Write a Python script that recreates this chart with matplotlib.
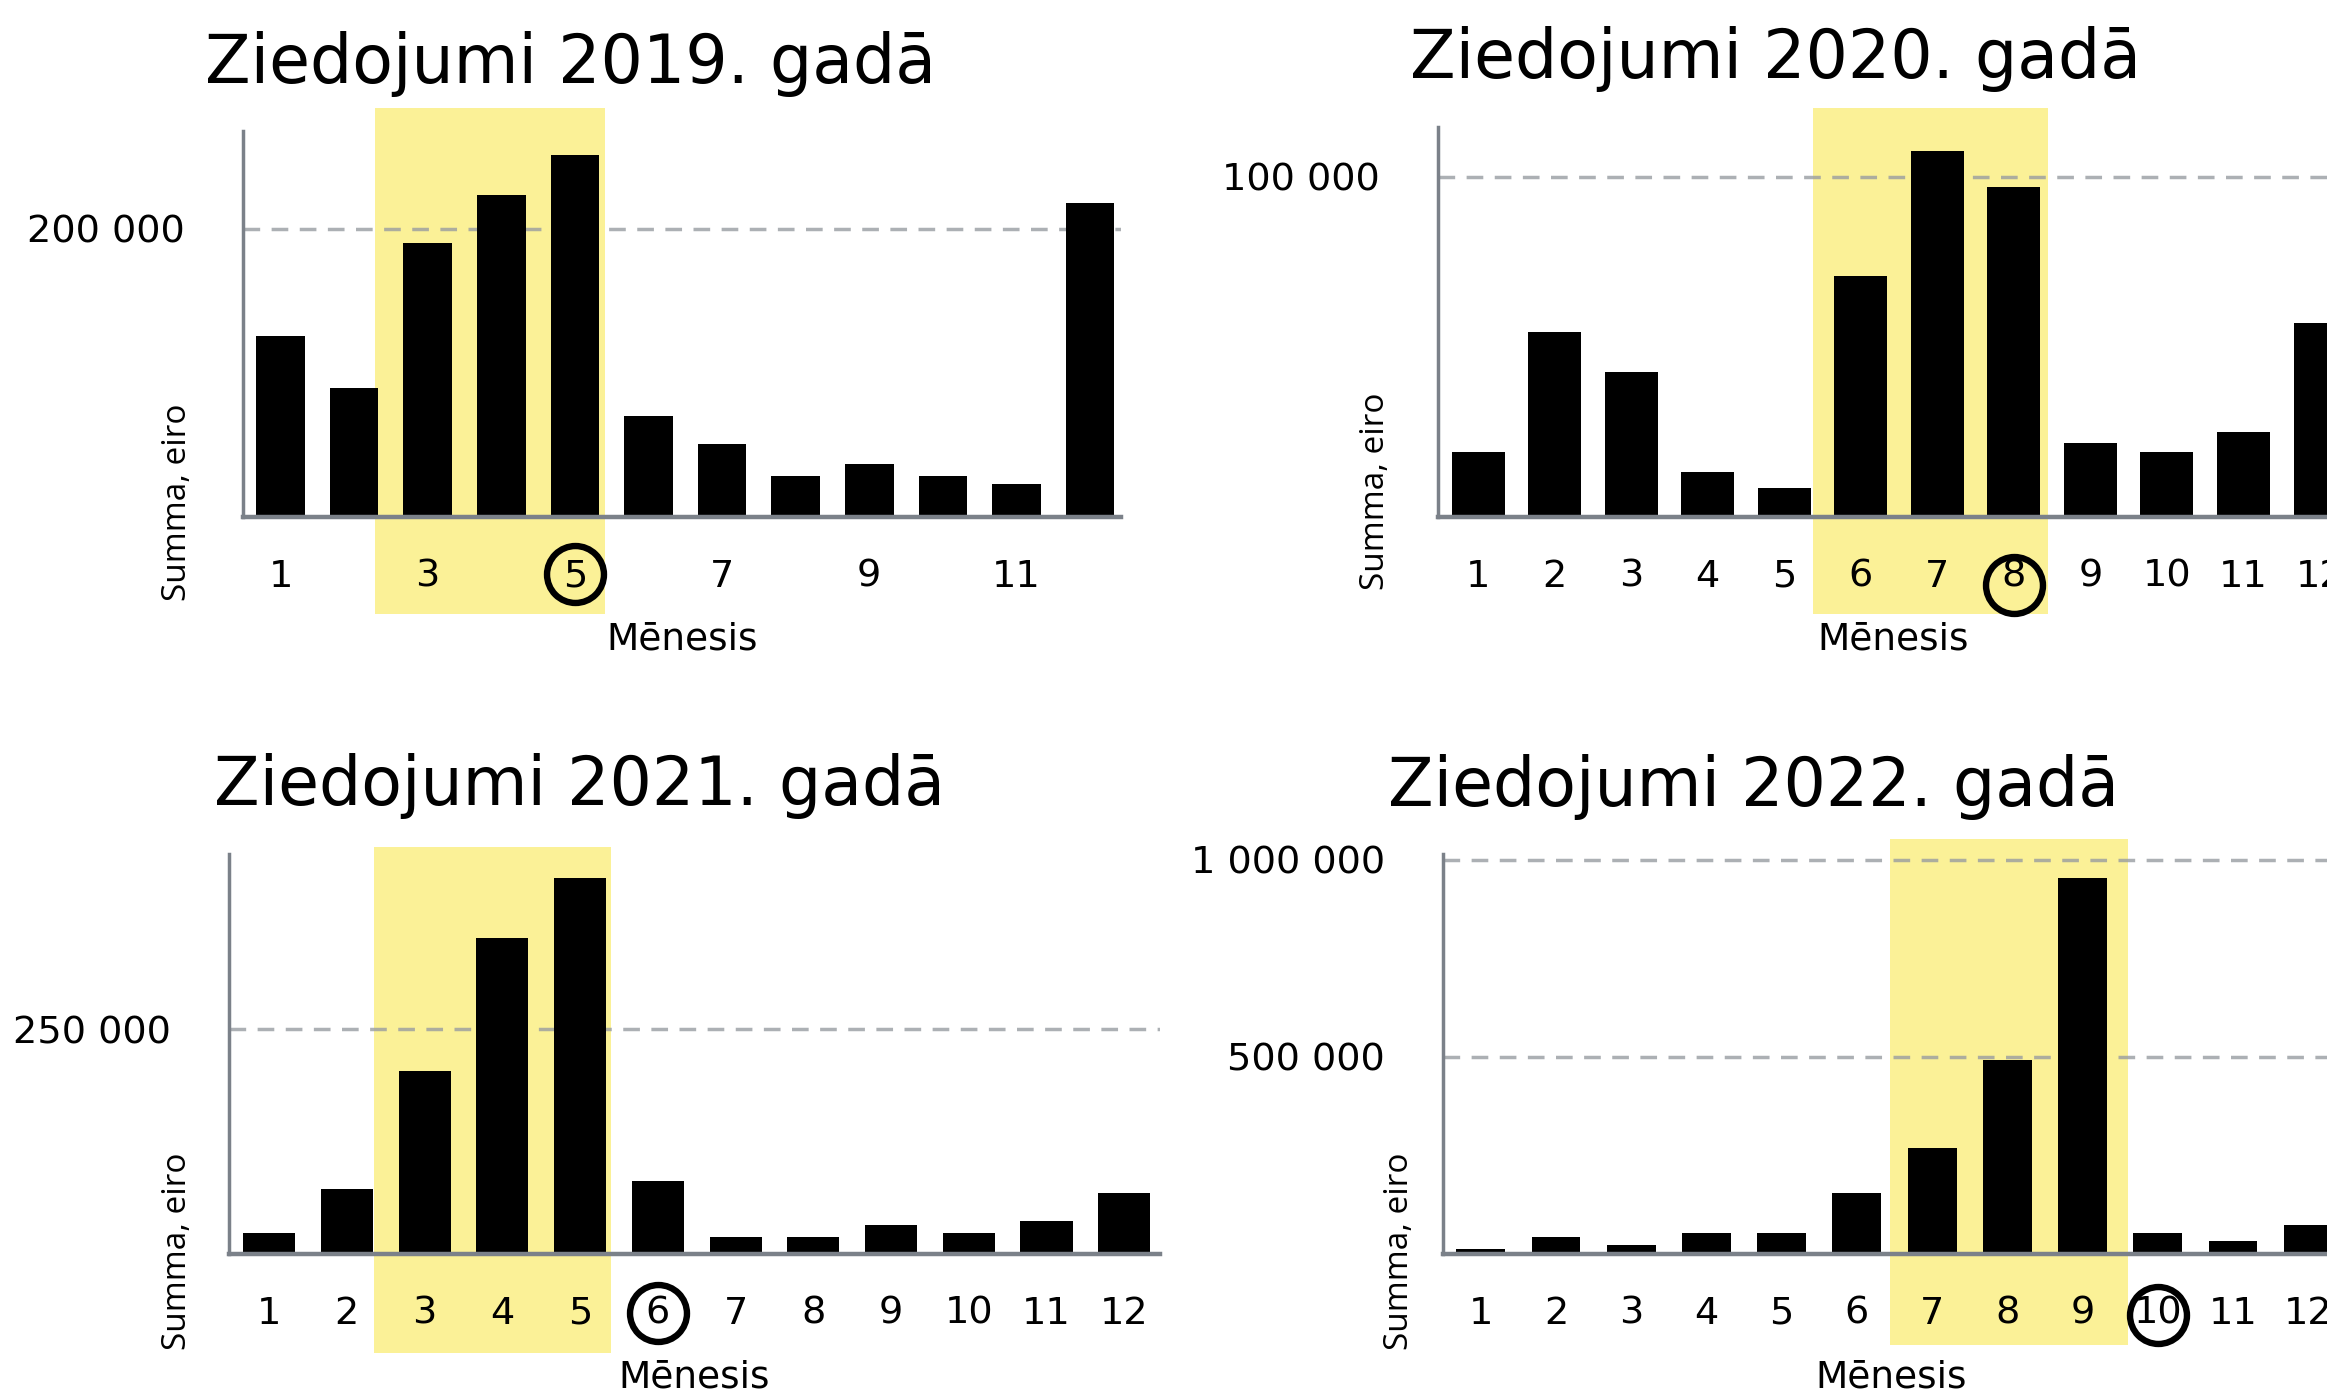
import matplotlib
matplotlib.use('Agg')
import matplotlib.pyplot as plt
import matplotlib.transforms as mtransforms
from matplotlib.patches import Rectangle

# monthly donations, eur
months = list(range(1, 13))
years = [2019, 2020, 2021, 2022]
d2019 = [125600, 89200, 189700, 223400, 251300, 69700, 50700, 28200, 36500, 28200, 22800, 218000]
d2020 = [19100, 54500, 42700, 13100, 8500, 70900, 107500, 97000, 21600, 19100, 24900, 56900]
d2021 = [23200, 72500, 203600, 351100, 418100, 81400, 18700, 18700, 32000, 23200, 37000, 68000]
d2022 = [12400, 42700, 22500, 52900, 52900, 155200, 267700, 492700, 953900, 52900, 32600, 73100]
values = [d2019, d2020, d2021, d2022]

y_max = [267700, 114600, 444800, 1014700]
y_ticks = [[200000], [100000], [250000], [500000, 1000000]]
x_ticks = [[1, 3, 5, 7, 9, 11], months, months, months]
hl_from = [3, 6, 3, 7]
hl_to = [5, 8, 5, 9]
circled = [5, 8, 6, 10]

# layout (pixels of the 2327x1391 picture)
W, H, DPI = 2327, 1391, 100
boxes = [(243, 131, 1121, 517), (1438, 127, 2349, 517),
         (229, 854, 1160, 1254), (1443, 854, 2339, 1254)]
xlims = [(0.49, 12.42), (0.474, 12.38), (0.483, 12.46), (0.497, 12.41)]
bar_w = [0.66, 0.69, 0.67, 0.65]
title_xy = [(205, 83), (1410, 78), (214, 805), (1388, 806)]
ylab_xy = [(178, 502), (1376, 491), (178, 1251), (1399, 1251)]
hl_pad = [(0.71, 0.41), (0.62, 0.44), (0.65, 0.40), (0.56, 0.60)]
hl_y = [(108, 614), (108, 614), (847, 1353), (839, 1345)]
circle_dy = [57, 68, 59, 61]

YELLOW = '#fbf197'
AXCOL = '#7b8189'


def fx(px):
    return px / W


def fy(px):
    return 1 - px / H


fig = plt.figure(figsize=(W / DPI, H / DPI), dpi=DPI)
fig.patch.set_facecolor('white')


def below(ax, px, xdata=True):
    base = mtransforms.blended_transform_factory(ax.transData, ax.transAxes) if xdata else ax.transAxes
    return base + mtransforms.ScaledTranslation(0, -px / DPI, fig.dpi_scale_trans)


for i, year in enumerate(years):
    l, t, r, b = boxes[i]
    ax = fig.add_axes([fx(l), fy(b), (r - l) / W, (b - t) / H])
    ax.bar(months, values[i], width=bar_w[i], color='black', zorder=2)
    ax.set_xlim(*xlims[i])
    ax.set_ylim(0, y_max[i])

    ax.set_xticks(x_ticks[i])
    ax.set_xticklabels([str(m) for m in x_ticks[i]])
    ax.set_yticks(y_ticks[i])
    ax.set_yticklabels(['{:,}'.format(v).replace(',', ' ') for v in y_ticks[i]])
    ax.tick_params(length=0, labelsize=27.5, colors='black')
    ax.tick_params(axis='x', pad=30)
    ax.tick_params(axis='y', pad=42)

    ax.set_axisbelow(True)
    ax.grid(axis='y', color='#989ca1', alpha=0.8, lw=2.5, linestyle=(0, (4.8, 3.3)))
    for s in ['top', 'right']:
        ax.spines[s].set_visible(False)
    ax.spines['left'].set_color(AXCOL)
    ax.spines['left'].set_linewidth(2.5)
    ax.spines['bottom'].set_color(AXCOL)
    ax.spines['bottom'].set_linewidth(3.2)

    # yellow highlight of the peak months
    x0 = hl_from[i] - hl_pad[i][0]
    x1 = hl_to[i] + hl_pad[i][1]
    ytop, ybot = hl_y[i]
    trans = mtransforms.blended_transform_factory(ax.transData, fig.transFigure)
    ax.add_patch(Rectangle((x0, fy(ybot)), x1 - x0, (ybot - ytop) / H, transform=trans,
                           facecolor=YELLOW, lw=0, zorder=0.1, clip_on=False))

    # circled month
    ax.plot([circled[i]], [0], transform=below(ax, circle_dy[i]), marker='o', ms=41,
            mfc='none', mec='black', mew=4.6, clip_on=False, zorder=5)

    ax.text(0.5, 0, 'Mēnesis', transform=below(ax, 133, xdata=False),
            ha='center', va='baseline', fontsize=27)

    fig.text(fx(title_xy[i][0]), fy(title_xy[i][1]), 'Ziedojumi {}. gadā'.format(year),
             fontsize=48, ha='left', va='baseline')
    fig.text(fx(ylab_xy[i][0]), fy(ylab_xy[i][1]), 'Summa, eiro', rotation=90,
             ha='center', va='center', fontsize=24, family=['Open Sans', 'DejaVu Sans'])

fig.savefig('out.png', dpi=DPI)
